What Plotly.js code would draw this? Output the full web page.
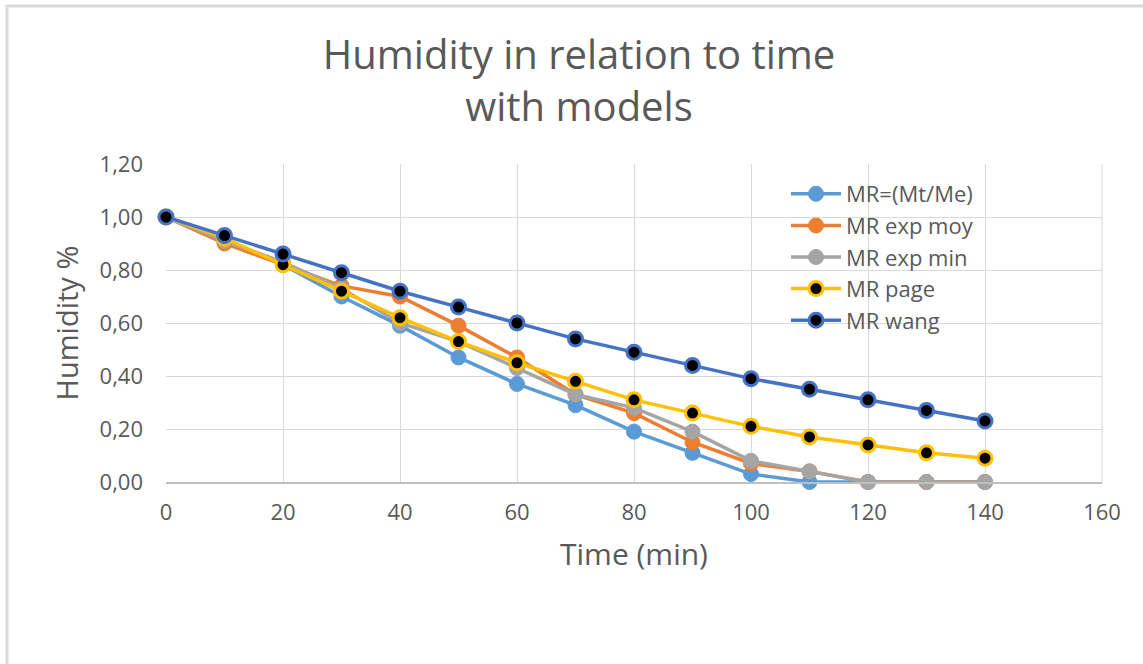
<!DOCTYPE html>
<html>
<head>
<meta charset="utf-8">
<script src="https://cdn.plot.ly/plotly-3.0.1.min.js"></script>
<style>
html,body{margin:0;padding:0;background:#fff;}
#chart{width:1143px;height:664px;}
</style>
</head>
<body>
<div id="chart"></div>
<script>
const time = [0, 10, 20, 30, 40, 50, 60, 70, 80, 90, 100, 110, 120, 130, 140];
const mrMtMe = [1.00, 0.91, 0.82, 0.70, 0.59, 0.47, 0.37, 0.29, 0.19, 0.11, 0.03, 0.00, 0.00, 0.00, 0.00];
const mrExpMoy = [1.00, 0.90, 0.82, 0.74, 0.70, 0.59, 0.47, 0.33, 0.26, 0.15, 0.07, 0.04, 0.00, 0.00, 0.00];
const mrExpMin = [1.00, 0.91, 0.83, 0.73, 0.60, 0.53, 0.43, 0.33, 0.28, 0.19, 0.08, 0.04, 0.00, 0.00, 0.00];
const mrPage = [1.00, 0.92, 0.82, 0.72, 0.62, 0.53, 0.45, 0.38, 0.31, 0.26, 0.21, 0.17, 0.14, 0.11, 0.09];
const mrWang = [1.00, 0.93, 0.86, 0.79, 0.72, 0.66, 0.60, 0.54, 0.49, 0.44, 0.39, 0.35, 0.31, 0.27, 0.23];
const seriesNames = ["MR=(Mt/Me)", "MR exp moy", "MR exp min", "MR page", "MR wang"];

const FONT = "Open Sans, sans-serif";
const TXT = "#595959";

function tr(y, name, color, fill) {
  return {
    x: time, y: y, name: name, type: "scatter", mode: "lines+markers",
    line: {color: color, width: 3.5},
    marker: {size: fill ? 14 : 15, color: fill || color, line: {color: color, width: fill ? 3 : 1}},
    cliponaxis: false
  };
}

const data = [
  tr(mrMtMe, seriesNames[0], "#5B9BD5"),
  tr(mrExpMoy, seriesNames[1], "#ED7D31"),
  tr(mrExpMin, seriesNames[2], "#A5A5A5"),
  tr(mrPage, seriesNames[3], "#FFC000", "#000000"),
  tr(mrWang, seriesNames[4], "#4472C4", "#000000")
];

const L = 166, R = 1102, T = 164, B = 482;
const px = v => (v - L) / (R - L);
const py = v => (B - v) / (B - T);

const layout = {
  width: 1143, height: 664,
  margin: {l: L, r: 1143 - R, t: T, b: 664 - B},
  paper_bgcolor: "#ffffff", plot_bgcolor: "#ffffff",
  separators: ", ",
  font: {family: FONT, color: TXT},
  title: {
    text: "Humidity in relation to time<br>with models",
    font: {family: FONT, size: 40, color: TXT},
    x: 579 / 1143, xref: "container", xanchor: "center",
    y: 1 - 69 / 664, yref: "container", yanchor: "middle"
  },
  xaxis: {
    range: [0, 160], tickvals: [0, 20, 40, 60, 80, 100, 120, 140, 160],
    showgrid: true, gridcolor: "#D9D9D9", gridwidth: 1,
    zeroline: false, showline: true, linecolor: "#BFBFBF", linewidth: 1.5,
    mirror: false, ticks: "",
    tickfont: {family: FONT, size: 22, color: TXT},
    ticklabelstandoff: 10,
    title: {text: "Time (min)", font: {family: FONT, size: 30, color: TXT}, standoff: 19}
  },
  yaxis: {
    range: [0, 1.2], tickvals: [0, 0.2, 0.4, 0.6, 0.8, 1.0, 1.2],
    tickformat: ".2f",
    showgrid: true, gridcolor: "#D9D9D9", gridwidth: 1,
    zeroline: false, showline: false, ticks: "",
    tickfont: {family: FONT, size: 22, color: TXT},
    ticklabelstandoff: 22,
    title: {text: "Humidity %", font: {family: FONT, size: 29, color: TXT}, standoff: 12}
  },
  showlegend: true,
  legend: {
    x: px(786), y: py(173), xanchor: "left", yanchor: "top",
    bgcolor: "rgba(255,255,255,0)",
    font: {family: FONT, size: 22, color: TXT},
    tracegroupgap: 0, itemwidth: 50
  },
  shapes: [
    {type: "line", xref: "paper", yref: "paper", x0: px(7), x1: px(1160), y0: py(6), y1: py(6),
     line: {color: "#D9D9D9", width: 3}},
    {type: "line", xref: "paper", yref: "paper", x0: px(7), x1: px(7), y0: py(5), y1: py(680),
     line: {color: "#D9D9D9", width: 3}},
    {type: "line", xref: "paper", yref: "paper", x0: 1, x1: 1, y0: 0, y1: 1,
     line: {color: "#D9D9D9", width: 1}, layer: "below"}
  ]
};

Plotly.newPlot("chart", data, layout, {displayModeBar: false, responsive: false});
</script>
</body>
</html>
